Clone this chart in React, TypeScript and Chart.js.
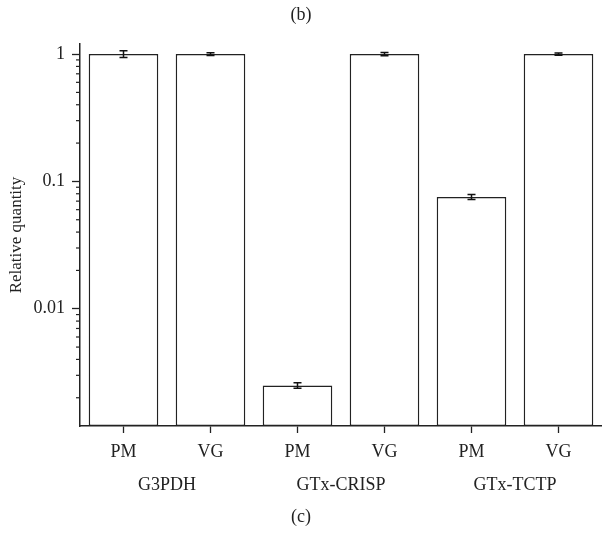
import React, { useEffect, useRef } from "react";
import { Chart, registerables } from "chart.js";

Chart.register(...registerables);

const categories = ["PM", "VG", "PM", "VG", "PM", "VG"];
const genes = ["G3PDH", "GTx-CRISP", "GTx-TCTP"];
const values = [1.0, 1.0, 0.0025, 1.0, 0.0755, 1.0];
const errors = [0.06, 0.025, 0.00012, 0.03, 0.0035, 0.02];
const yTickValues = [0.01, 0.1, 1];
const yMin = 0.0012;
const yMax = 1.2;

const FONT = "'Liberation Serif', 'Times New Roman', serif";
const INK = "#222222";

const minorTicksPlugin = {
  id: "minorTicks",
  afterDraw(chart: any) {
    const y = chart.scales.y;
    const ctx = chart.ctx;
    ctx.save();
    ctx.strokeStyle = INK;
    ctx.lineWidth = 1.2;
    const left = chart.chartArea.left;
    for (let e = -3; e <= 0; e++) {
      for (let m = 2; m <= 9; m++) {
        const v = m * Math.pow(10, e);
        if (v <= yMin || v >= yMax) continue;
        const py = y.getPixelForValue(v);
        ctx.beginPath();
        ctx.moveTo(left - 4, py);
        ctx.lineTo(left, py);
        ctx.stroke();
      }
    }
    ctx.restore();
  },
};

const errorBarPlugin = {
  id: "errorBars",
  afterDatasetsDraw(chart: any) {
    const meta = chart.getDatasetMeta(0);
    const y = chart.scales.y;
    const ctx = chart.ctx;
    ctx.save();
    ctx.strokeStyle = "#111";
    ctx.lineWidth = 1.5;
    meta.data.forEach((bar: any, i: number) => {
      const v = values[i];
      const e = errors[i];
      const top = y.getPixelForValue(v + e);
      const bot = y.getPixelForValue(v - e);
      const x = bar.x;
      ctx.beginPath();
      ctx.moveTo(x, top);
      ctx.lineTo(x, bot);
      ctx.moveTo(x - 4, top);
      ctx.lineTo(x + 4, top);
      ctx.moveTo(x - 4, bot);
      ctx.lineTo(x + 4, bot);
      ctx.stroke();
    });
    ctx.restore();
  },
};

export default function App() {
  const ref = useRef<HTMLCanvasElement>(null);
  useEffect(() => {
    if (!ref.current) return;
    const chart = new Chart(ref.current, {
      type: "bar",
      data: {
        labels: categories,
        datasets: [
          {
            data: values,
            backgroundColor: "#ffffff",
            borderColor: INK,
            borderWidth: 1.5,
            borderSkipped: false,
            barPercentage: 0.8,
            categoryPercentage: 1.0,
          },
        ],
      },
      options: {
        responsive: false,
        animation: false,
        layout: { padding: { left: 0, right: 0, top: 0, bottom: 0 } },
        plugins: {
          legend: { display: false },
          tooltip: { enabled: false },
          title: {
            display: true,
            text: "(b)",
            position: "top",
            color: INK,
            font: { family: FONT, size: 18, weight: "normal" },
            padding: { top: 4, bottom: 18.4 },
          },
          subtitle: {
            display: true,
            text: "(c)",
            position: "bottom",
            color: INK,
            font: { family: FONT, size: 18, weight: "normal" },
            padding: { top: 8, bottom: 11.4 },
          },
        },
        scales: {
          x: {
            type: "category",
            position: "bottom",
            weight: 0,
            offset: true,
            grid: {
              display: true,
              drawOnChartArea: false,
              offset: false,
              tickLength: 7,
              tickColor: INK,
              tickWidth: 1.3,
            },
            border: { display: true, color: INK, width: 1.5 },
            ticks: {
              color: INK,
              font: { family: FONT, size: 18 },
              padding: 8,
              maxRotation: 0,
              autoSkip: false,
            },
            afterFit: (s: any) => {
              s.height = 40;
            },
          },
          x2: {
            type: "category",
            position: "bottom",
            weight: 1,
            labels: genes,
            offset: true,
            grid: { display: false },
            border: { display: false },
            ticks: {
              color: INK,
              font: { family: FONT, size: 18 },
              padding: 0,
              maxRotation: 0,
              autoSkip: false,
            },
            afterFit: (s: any) => {
              s.height = 32;
            },
          },
          y: {
            type: "logarithmic",
            min: yMin,
            max: yMax,
            grid: {
              display: true,
              drawOnChartArea: false,
              tickLength: 8,
              tickColor: INK,
              tickWidth: 1.3,
            },
            border: { display: true, color: INK, width: 1.5 },
            afterBuildTicks: (s: any) => {
              s.ticks = yTickValues.map((v) => ({ value: v }));
            },
            ticks: {
              color: INK,
              font: { family: FONT, size: 18 },
              padding: 7,
              callback: (v: any) => String(v),
            },
            title: {
              display: true,
              text: "Relative quantity",
              color: INK,
              font: { family: FONT, size: 17 },
              padding: { top: 6, bottom: 0 },
            },
            afterFit: (s: any) => {
              s.width = 80;
            },
          },
        },
      },
      plugins: [minorTicksPlugin, errorBarPlugin],
    });
    return () => chart.destroy();
  }, []);
  return (
    <div style={{ position: "absolute", left: 0, top: 0, width: 602, height: 539, background: "#fff" }}>
      <canvas ref={ref} width={602} height={539} />
    </div>
  );
}
